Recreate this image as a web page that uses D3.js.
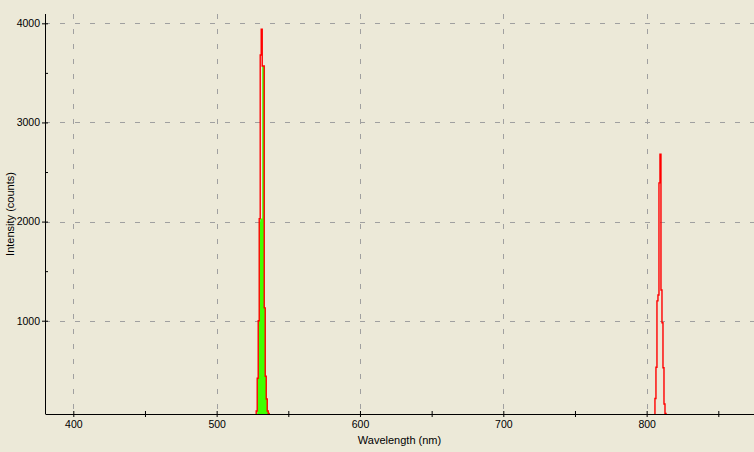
<!DOCTYPE html>
<html>
<head>
<meta charset="utf-8">
<style>
  body { margin: 0; background: #ece9d8; }
  svg { display: block; }
  text { font-family: "Liberation Sans", Arial, sans-serif; fill: #000; }
</style>
</head>
<body>
<script src="https://cdn.jsdelivr.net/npm/d3@7/dist/d3.min.js"></script>
<script>
// spectrum values (nm, counts)
var redWavelengths = [380.3, 526.9, 527.6, 528.3, 529.0, 529.7, 530.4, 531.1, 531.8, 532.5, 533.2, 533.9, 534.6, 535.3, 536.0, 536.7,
                      805.1, 805.8, 806.5, 807.2, 807.9, 808.6, 809.3, 810.0, 810.7, 811.4, 812.1, 812.8, 813.5, 875];
var redCounts      = [40, 40, 90, 420, 1000, 2030, 3680, 3940, 3570, 3570, 1130, 440, 210, 90, 65, 40,
                      40, 215, 530, 1200, 1260, 2390, 2680, 1310, 980, 525, 160, 65, 40, 40];

var greenWavelengths = [526.9, 528.3, 529.0, 529.7, 530.4, 531.1, 531.8, 532.5, 533.2, 533.9, 534.6, 535.3, 536.0, 536.7];
var greenCounts      = [40, 420, 1000, 2000, 2030, 2030, 3570, 3570, 1130, 440, 210, 90, 60, 40];

var xMajorTicks = [400, 500, 600, 700, 800];
var xMinorTicks = [450, 550, 650, 750, 850];
var yMajorTicks = [1000, 2000, 3000, 4000];
var yMinorTicks = [1500, 2500, 3500];

var margin = { top: 14, right: 0, bottom: 38, left: 45 },
    width = 754 - margin.left - margin.right,
    height = 452 - margin.top - margin.bottom;

var svg = d3.select("body")
            .append("svg")
              .attr("width", 754)
              .attr("height", 452)
            .append("g")
              .attr("transform", "translate(" + margin.left + "," + margin.top + ")");

var xScale = d3.scaleLinear().domain([380.25, 874.9]).range([0, width]);
var yScale = d3.scaleLinear().domain([59, 4094]).range([height, 0]);

svg.append("defs").append("clipPath").attr("id", "plot")
  .append("rect").attr("width", width).attr("height", height);

// dashed grid
svg.append("g").selectAll("line").data(yMajorTicks).enter().append("line")
  .attr("x1", 0).attr("x2", width)
  .attr("y1", function (d) { return Math.round(yScale(d)) + 0.5; })
  .attr("y2", function (d) { return Math.round(yScale(d)) + 0.5; })
  .attr("stroke", "#a0a0a0").attr("stroke-dasharray", "5,10");
svg.append("g").selectAll("line").data(xMajorTicks).enter().append("line")
  .attr("y1", 0).attr("y2", height)
  .attr("x1", function (d) { return Math.round(xScale(d)) + 0.5; })
  .attr("x2", function (d) { return Math.round(xScale(d)) + 0.5; })
  .attr("stroke", "#a0a0a0").attr("stroke-dasharray", "5,10");

var red = redWavelengths.map(function (w, i) { return { w: w, c: redCounts[i] }; });
var green = greenWavelengths.map(function (w, i) { return { w: w, c: greenCounts[i] }; });

var plot = svg.append("g").attr("clip-path", "url(#plot)");

plot.append("path")
  .datum(green)
  .attr("fill", "#40ff00")
  .attr("d", d3.area()
    .curve(d3.curveStepAfter)
    .x(function (d) { return xScale(d.w); })
    .y0(height)
    .y1(function (d) { return yScale(d.c); }));

plot.append("path")
  .datum(red)
  .attr("fill", "none")
  .attr("stroke", "#ff0000")
  .attr("stroke-width", 1.4)
  .attr("d", d3.line()
    .curve(d3.curveStepAfter)
    .x(function (d) { return xScale(d.w); })
    .y(function (d) { return yScale(d.c); }));

// axes
var xAxis = svg.append("g")
  .attr("transform", "translate(0," + height + ")")
  .call(d3.axisBottom(xScale).tickValues(xMajorTicks).tickSize(3).tickSizeOuter(0).tickPadding(4).tickFormat(d3.format("d")));
xAxis.selectAll(".tick line").attr("y1", -3);
xAxis.selectAll("text").style("font-size", "10.5px");

svg.append("g")
  .attr("transform", "translate(0," + height + ")")
  .call(d3.axisBottom(xScale).tickValues(xMinorTicks).tickSize(3).tickSizeOuter(0).tickFormat(""))
  .call(function (g) { g.select(".domain").remove(); })
  .selectAll(".tick line").attr("y1", -3);

var yAxis = svg.append("g")
  .call(d3.axisLeft(yScale).tickValues(yMajorTicks).tickSize(3).tickSizeOuter(0).tickPadding(2).tickFormat(d3.format("d")));
yAxis.selectAll(".tick line").attr("x1", 3);
yAxis.selectAll("text").style("font-size", "10.5px");
yAxis.select(".domain").attr("d", "M0.5," + height + "V0");

svg.append("g")
  .call(d3.axisRight(yScale).tickValues(yMinorTicks).tickSize(3).tickSizeOuter(0).tickFormat(""))
  .call(function (g) { g.select(".domain").remove(); });

svg.selectAll(".domain, .tick line").attr("stroke", "#000");

svg.append("text")
  .attr("x", width / 2)
  .attr("y", height + 30)
  .attr("text-anchor", "middle")
  .style("font-size", "11px")
  .text("Wavelength (nm)");

svg.append("text")
  .attr("transform", "translate(" + (14 - margin.left) + "," + (height / 2) + ") rotate(-90)")
  .attr("text-anchor", "middle")
  .style("font-size", "11px")
  .text("Intensity (counts)");
</script>
</body>
</html>
